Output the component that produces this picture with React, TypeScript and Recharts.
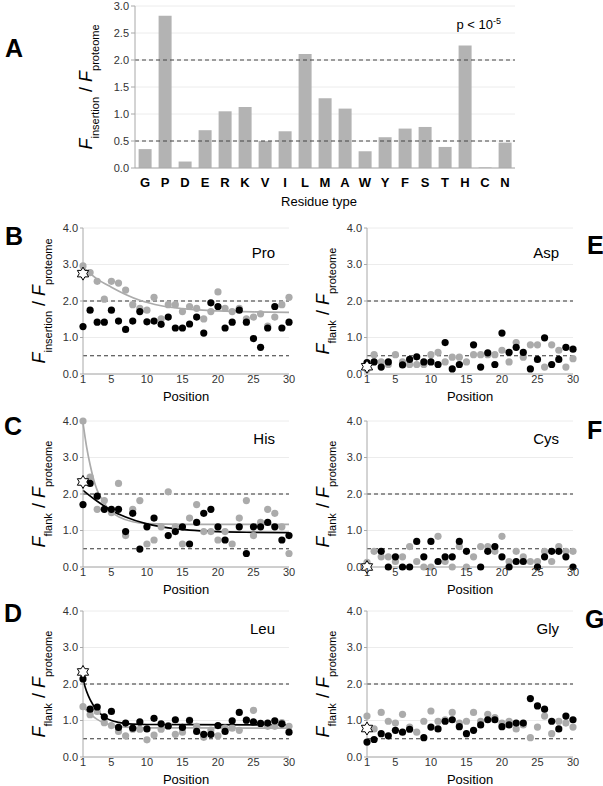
import React from 'react';
import {
  BarChart, Bar, ComposedChart, Scatter, Line, XAxis, YAxis, CartesianGrid, ReferenceLine,
} from 'recharts';

// panel A
const residues = ['G', 'P', 'D', 'E', 'R', 'K', 'V', 'I', 'L', 'M', 'A', 'W', 'Y', 'F', 'S', 'T', 'H', 'C', 'N'];
const insertionRatio = [0.35, 2.82, 0.12, 0.70, 1.05, 1.13, 0.50, 0.68, 2.11, 1.29, 1.10, 0.31, 0.57, 0.73, 0.76, 0.39, 2.27, 0.01, 0.47];

const positions = [1, 2, 3, 4, 5, 6, 7, 8, 9, 10, 11, 12, 13, 14, 15, 16, 17, 18, 19, 20, 21, 22, 23, 24, 25, 26, 27, 28, 29, 30];
const posTicks = [1, 5, 10, 15, 20, 25, 30];

// Pro (B)
const proBlack = [1.30, 1.75, 1.42, 1.42, 1.75, 1.45, 1.22, 1.45, 1.71, 1.43, 1.45, 1.36, 1.56, 1.26, 1.26, 1.37, 1.56, 1.12, 1.95, 1.85, 1.26, 1.42, 1.75, 1.42, 0.97, 0.73, 1.26, 1.85, 1.26, 1.42];
const proGrey = [2.96, 2.78, 2.54, 2.05, 2.54, 2.49, 2.30, 1.90, 1.80, 1.75, 2.10, 1.51, 1.90, 1.90, 1.71, 1.85, 1.80, 1.51, 1.71, 2.25, 1.80, 1.71, 1.80, 1.51, 1.56, 1.65, 1.31, 1.56, 1.90, 2.10];
const proGreyFitX = [1, 3, 5, 7, 9, 12, 15, 20, 25, 30];
const proGreyFitY = [2.92, 2.60, 2.38, 2.18, 2.02, 1.87, 1.79, 1.73, 1.70, 1.69];
const proStar = 2.75;

// His (C)
const hisBlack = [1.71, 2.29, 1.94, 1.58, 1.58, 1.58, 0.97, 1.47, 0.49, 1.10, 1.34, null, 0.86, 0.97, 1.10, 0.63, 1.22, 1.47, 1.58, 1.10, 0.74, null, 1.10, 0.37, 1.10, 1.10, 1.22, 1.10, 0.74, 0.86];
const hisGrey = [4.0, 2.46, 1.58, 1.82, 1.49, 2.29, 0.86, 1.58, 1.82, 0.63, 0.74, 1.10, 2.06, 1.10, 0.63, 1.34, 1.71, 0.97, 0.97, 0.74, 0.97, 0.63, 1.34, 1.82, 0.86, 1.22, 1.58, 1.47, 1.10, 0.37];
const hisGreyFitX = [1, 1.5, 2, 2.5, 3, 4, 5, 6, 8, 10, 15, 30];
const hisGreyFitY = [3.95, 3.30, 2.80, 2.40, 2.10, 1.75, 1.50, 1.38, 1.24, 1.19, 1.17, 1.17];
const hisBlackFitX = [1, 3, 5, 7, 10, 13, 16, 20, 25, 30];
const hisBlackFitY = [2.10, 1.80, 1.55, 1.37, 1.18, 1.07, 1.01, 0.97, 0.95, 0.94];
const hisStar = 2.33;

// Leu (D)
const leuBlack = [2.14, 1.31, 1.37, 1.10, 1.25, 0.81, 0.93, 0.79, 0.96, 0.77, 1.06, 0.91, 0.85, 1.02, 0.81, 1.00, 0.70, 0.62, 0.62, 0.86, 0.70, 0.99, 1.22, 1.01, 0.96, 0.92, 0.93, 0.99, 0.91, 0.68];
const leuGrey = [1.38, 1.16, 1.25, 0.94, 0.86, 0.70, 0.58, 0.76, 0.76, 0.47, 0.60, 0.76, 0.86, 0.62, 0.68, 1.01, 0.84, 0.54, 0.74, 0.58, 0.79, 0.79, 0.73, 1.01, 1.28, 0.91, 0.84, 0.84, 0.94, 0.84];
const leuBlackFitX = [1, 1.5, 2, 3, 4, 5, 6, 8, 10, 30];
const leuBlackFitY = [2.12, 1.80, 1.57, 1.27, 1.10, 1.00, 0.95, 0.90, 0.89, 0.88];
const leuGreyFitX = [1, 2, 3, 4, 5, 7, 10, 30];
const leuGreyFitY = [1.38, 1.18, 1.03, 0.93, 0.87, 0.82, 0.80, 0.79];
const leuStar = 2.33;

// Asp (E)
const aspBlack = [0.31, 0.33, 0.19, 0.33, null, 0.25, 0.40, 0.47, 0.33, 0.33, 0.26, 0.86, 0.14, 0.26, null, 0.80, 0.19, 0.58, 0.26, 1.12, 0.59, 0.73, 0.59, 0.14, 0.40, 0.99, 0.26, 0.40, 0.73, 0.68];
const aspGrey = [0.12, 0.53, 0.33, 0.26, 0.53, 0.33, 0.26, 0.26, 0.26, 0.53, 0.59, 0.33, 0.46, 0.46, 0.33, 0.53, 0.53, 0.53, 0.53, 0.65, 0.33, 0.86, 0.46, 0.80, 0.80, 0.19, 0.80, 0.65, 0.19, 0.42];
const aspStar = 0.2;

// Cys (F)
const cysBlack = [0.0, null, 0.43, 0.0, 0.28, 0.0, 0.0, 0.70, 0.28, 0.70, 0.15, 0.28, 0.28, 0.70, 0.43, null, 0.0, 0.43, 0.56, 0.28, 0.0, 0.15, 0.15, null, 0.0, 0.28, 0.43, 0.43, 0.28, 0.0];
const cysGrey = [0.13, 0.43, 0.28, 0.28, 0.15, 0.28, 0.56, 0.15, 0.0, 0.0, 0.84, 0.15, 0.0, 0.56, 0.0, 0.28, 0.56, 0.56, 0.43, 0.84, 0.15, 0.43, 0.28, 0.15, 0.15, 0.43, 0.15, 0.56, 0.43, 0.43];
const cysStar = 0.0;

// Gly (G)
const glyBlack = [0.41, 0.48, 0.64, 0.58, 0.73, 0.68, 0.76, null, 0.53, 0.82, 0.77, 0.98, 1.02, 0.83, 0.64, 0.73, 0.88, 1.02, 1.02, 0.83, 0.88, 0.93, 0.93, 1.60, 1.40, 1.31, 0.98, 0.77, 1.12, 1.02];
const glyGrey = [1.12, 0.77, 1.22, 0.98, 0.93, 1.17, 0.82, 0.68, 0.98, 1.26, 0.98, 1.02, 1.22, 0.93, 0.98, 1.22, 0.98, 1.17, 1.08, 0.93, 0.98, 0.77, 0.88, 0.53, 0.82, 1.12, 0.64, 0.98, 0.93, 0.82];
const glyStar = 0.78;

const FONT = '"Liberation Sans", Arial, sans-serif';
const GREY = '#ababab';
const FRAME = '#a8a8a8';

const pts = (ys: (number | null)[]) =>
  positions.map((x, i) => ({ x, y: ys[i] })).filter(d => d.y != null);
const fit = (xs: number[], ys: number[]) => xs.map((x, i) => ({ x, y: ys[i] }));

function Dot(color: string) {
  return (p: any) => <circle cx={p.cx} cy={p.cy} r={3.6} fill={color} />;
}

// hexagram marker for the proteome reference value
function Star(p: any) {
  const { cx, cy } = p;
  const ro = 6.5, ri = ro / Math.sqrt(3);
  const s = [];
  for (let k = 0; k < 12; k++) {
    const a = (k * Math.PI) / 6;
    const r = k % 2 === 0 ? ro : ri;
    s.push(`${cx + r * Math.sin(a)},${cy - r * Math.cos(a)}`);
  }
  return <polygon points={s.join(' ')} fill="#fff" stroke="#000" strokeWidth={1} />;
}

function YLabel({ x, y, sub }: { x: number; y: number; sub: string }) {
  const subStyle: React.CSSProperties = { fontSize: 11, fontStyle: 'normal', position: 'relative', top: 7 };
  return (
    <div style={{
      position: 'absolute', left: x, top: y, transform: 'translate(-50%, -50%) rotate(-90deg)',
      whiteSpace: 'nowrap', fontFamily: FONT, fontSize: 18, lineHeight: 1, color: '#000',
    }}>
      <i>F</i><span style={subStyle}>{sub}</span> / <i>F</i><span style={subStyle}>proteome</span>
    </div>
  );
}

function Letter({ x, y, ch }: { x: number; y: number; ch: string }) {
  return (
    <div style={{ position: 'absolute', left: x, top: y, fontFamily: FONT, fontWeight: 'bold', fontSize: 25, lineHeight: 1 }}>{ch}</div>
  );
}

interface PanelProps {
  left: number; top: number; name: string; nameDy: number; sub: string;
  black: (number | null)[]; grey: (number | null)[]; star: number;
  fits: { xs: number[]; ys: number[]; color: string }[];
}

const PW = 206, PH = 146;

function Panel({ left, top, name, nameDy, sub, black, grey, star, fits }: PanelProps) {
  const tickStyle = { fontSize: 11, fill: '#333' };
  return (
    <>
      <YLabel x={left - 44} y={top + PH / 2} sub={sub} />
      <div style={{ position: 'absolute', left: left + PW - 14, top: top + nameDy, transform: 'translate(-100%, -50%)', fontFamily: FONT, fontSize: 15 }}>{name}</div>
      <div style={{ position: 'absolute', left: left - 30, top: top - 10 }}>
        <ComposedChart width={PW + 40} height={PH + 40} margin={{ top: 10, right: 10, bottom: 2, left: 0 }}>
          <CartesianGrid xAxisId="x" yAxisId="y" vertical={false} stroke="#ececec" />
          <XAxis xAxisId="x" dataKey="x" type="number" domain={[1, 30]} ticks={posTicks}
            stroke={FRAME} tick={tickStyle} tickSize={0} tickMargin={1} height={28}
            label={{ value: 'Position', position: 'insideBottom', offset: 1, fontSize: 13, fill: '#000' }} />
          <XAxis xAxisId="xm" dataKey="x" type="number" domain={[1, 30]} ticks={positions} mirror height={0}
            tick={false} tickSize={3} stroke={FRAME} axisLine={false} />
          <XAxis xAxisId="xt" dataKey="x" type="number" domain={[1, 30]} ticks={positions} orientation="top" mirror height={0}
            tick={false} tickSize={3} stroke={FRAME} />
          <YAxis yAxisId="y" type="number" domain={[0, 4]} ticks={[0, 1, 2, 3, 4]} width={30}
            tickFormatter={(v: number) => v.toFixed(1)} tick={tickStyle} tickSize={3} tickMargin={2} stroke={FRAME} />
          <YAxis yAxisId="ym" type="number" domain={[0, 4]} ticks={[0.25, 0.5, 0.75, 1.25, 1.5, 1.75, 2.25, 2.5, 2.75, 3.25, 3.5, 3.75]}
            mirror width={0} tick={false} tickSize={3} stroke={FRAME} axisLine={false} />
          <YAxis yAxisId="yr" type="number" domain={[0, 4]} orientation="right" ticks={[0.25, 0.5, 0.75, 1, 1.25, 1.5, 1.75, 2, 2.25, 2.5, 2.75, 3, 3.25, 3.5, 3.75]}
            mirror width={0} tick={false} tickSize={3} stroke={FRAME} />
          <ReferenceLine xAxisId="x" yAxisId="y" y={2} stroke="#333" strokeDasharray="4 3" />
          <ReferenceLine xAxisId="x" yAxisId="y" y={0.5} stroke="#333" strokeDasharray="4 3" />
          <Scatter xAxisId="x" yAxisId="y" data={pts(grey)} dataKey="y" shape={Dot(GREY)} isAnimationActive={false} />
          <Scatter xAxisId="x" yAxisId="y" data={pts(black)} dataKey="y" shape={Dot('#000')} isAnimationActive={false} />
          {fits.map((f, i) => (
            <Line key={i} xAxisId="x" yAxisId="y" data={fit(f.xs, f.ys)} dataKey="y" type="monotone"
              stroke={f.color} strokeWidth={1.7} dot={false} activeDot={false} isAnimationActive={false} />
          ))}
          <Scatter xAxisId="x" yAxisId="y" data={[{ x: 1, y: star }]} dataKey="y" shape={Star} isAnimationActive={false} />
        </ComposedChart>
      </div>
    </>
  );
}

const A_LEFT = 135, A_TOP = 6, A_W = 380, A_H = 162;

function PanelA() {
  const data = residues.map((r, i) => ({ r, i, v: insertionRatio[i] }));
  const major = [0, 0.5, 1, 1.5, 2, 2.5, 3];
  const minor = [0.1, 0.2, 0.3, 0.4, 0.6, 0.7, 0.8, 0.9, 1.1, 1.2, 1.3, 1.4, 1.6, 1.7, 1.8, 1.9, 2.1, 2.2, 2.3, 2.4, 2.6, 2.7, 2.8, 2.9];
  const bounds = [0, 1, 2, 3, 4, 5, 6, 7, 8, 9, 10, 11, 12, 13, 14, 15, 16, 17, 18, 19];
  return (
    <>
      <YLabel x={A_LEFT - 49} y={A_TOP + A_H / 2} sub="insertion" />
      <div style={{ position: 'absolute', left: A_LEFT + A_W - 14, top: A_TOP + 10, transform: 'translateX(-100%)', fontFamily: FONT, fontSize: 13, whiteSpace: 'nowrap' }}>
        p &lt; 10<sup style={{ fontSize: 9 }}>-5</sup>
      </div>
      <div style={{ position: 'absolute', left: A_LEFT + A_W / 2 - 6, top: 194, transform: 'translateX(-50%)', fontFamily: FONT, fontSize: 13, whiteSpace: 'nowrap' }}>
        Residue type
      </div>
      <div style={{ position: 'absolute', left: A_LEFT - 35, top: A_TOP - 6 }}>
        <BarChart width={A_W + 45} height={A_H + 28} data={data} barCategoryGap="18%" margin={{ top: 6, right: 10, bottom: 0, left: 0 }}>
          <CartesianGrid xAxisId="c" yAxisId="y" vertical={false} stroke="#ececec" />
          <XAxis xAxisId="c" dataKey="r" tickLine={false} stroke={FRAME} height={22} tickMargin={4}
            tick={{ fontSize: 13, fontWeight: 'bold', fill: '#000' }} interval={0} />
          <XAxis xAxisId="t" dataKey="i" type="number" domain={[0, 19]} ticks={bounds} orientation="top" mirror height={0}
            tick={false} tickSize={3} stroke={FRAME} />
          <YAxis yAxisId="y" type="number" domain={[0, 3]} ticks={major} width={35}
            tickFormatter={(v: number) => v.toFixed(1)} tick={{ fontSize: 11, fill: '#333' }} tickSize={4} tickMargin={2} stroke={FRAME} />
          <YAxis yAxisId="yr" type="number" domain={[0, 3]} ticks={minor} orientation="right" mirror width={0}
            tick={false} tickSize={3} stroke={FRAME} />
          <Bar xAxisId="c" yAxisId="y" dataKey="v" fill="#b3b3b3" isAnimationActive={false} />
          <ReferenceLine xAxisId="c" yAxisId="y" y={2} stroke="#444" strokeDasharray="4 3" />
          <ReferenceLine xAxisId="c" yAxisId="y" y={0.5} stroke="#444" strokeDasharray="4 3" />
        </BarChart>
      </div>
    </>
  );
}

const LX = 83, RX = 367;
const T1 = 228, T2 = 421, T3 = 611;

export default function App() {
  return (
    <div style={{ position: 'absolute', left: 0, top: 0, width: 603, height: 786, background: '#fff', fontFamily: FONT }}>
      <Letter x={5} y={36} ch="A" />
      <PanelA />
      <Letter x={5} y={224} ch="B" />
      <Panel left={LX} top={T1} name="Pro" nameDy={24} sub="insertion" black={proBlack} grey={proGrey} star={proStar}
        fits={[{ xs: proGreyFitX, ys: proGreyFitY, color: GREY }]} />
      <Letter x={587} y={233} ch="E" />
      <Panel left={RX} top={T1} name="Asp" nameDy={24} sub="flank" black={aspBlack} grey={aspGrey} star={aspStar} fits={[]} />
      <Letter x={4} y={414} ch="C" />
      <Panel left={LX} top={T2} name="His" nameDy={17} sub="flank" black={hisBlack} grey={hisGrey} star={hisStar}
        fits={[{ xs: hisGreyFitX, ys: hisGreyFitY, color: GREY }, { xs: hisBlackFitX, ys: hisBlackFitY, color: '#000' }]} />
      <Letter x={587} y={418} ch="F" />
      <Panel left={RX} top={T2} name="Cys" nameDy={17} sub="flank" black={cysBlack} grey={cysGrey} star={cysStar} fits={[]} />
      <Letter x={4} y={601} ch="D" />
      <Panel left={LX} top={T3} name="Leu" nameDy={17} sub="flank" black={leuBlack} grey={leuGrey} star={leuStar}
        fits={[{ xs: leuGreyFitX, ys: leuGreyFitY, color: GREY }, { xs: leuBlackFitX, ys: leuBlackFitY, color: '#000' }]} />
      <Letter x={585} y={607} ch="G" />
      <Panel left={RX} top={T3} name="Gly" nameDy={17} sub="flank" black={glyBlack} grey={glyGrey} star={glyStar} fits={[]} />
    </div>
  );
}
